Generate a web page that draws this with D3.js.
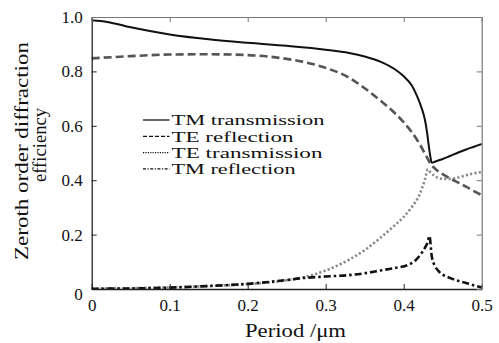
<!DOCTYPE html>
<html><head><meta charset="utf-8">
<script src="https://cdn.jsdelivr.net/npm/d3@7"></script>
<style>html,body{margin:0;padding:0;background:#fff;}svg{display:block;}</style>
</head><body>
<script>
const xTicks = [0, 0.1, 0.2, 0.3, 0.4, 0.5];
const xTickLabels = ["0", "0.1", "0.2", "0.3", "0.4", "0.5"];
const yTicks = [0, 0.2, 0.4, 0.6, 0.8, 1.0];
const yTickLabels = ["0", "0.2", "0.4", "0.6", "0.8", "1.0"];
const seriesNames = ["TM transmission", "TE reflection", "TE transmission", "TM reflection"];

const tmTransP = [0, 0.02, 0.05, 0.1, 0.15, 0.2, 0.25, 0.3, 0.33, 0.35, 0.37, 0.39, 0.4, 0.41, 0.417, 0.423, 0.427, 0.43, 0.432, 0.434, 0.436, 0.44, 0.45, 0.46, 0.47, 0.48, 0.49, 0.5];
const tmTransV = [0.988, 0.982, 0.962, 0.936, 0.918, 0.905, 0.894, 0.88, 0.868, 0.855, 0.836, 0.805, 0.782, 0.75, 0.71, 0.665, 0.625, 0.575, 0.53, 0.49, 0.464, 0.468, 0.478, 0.49, 0.502, 0.513, 0.523, 0.533];

const teReflP = [0, 0.05, 0.1, 0.15, 0.2, 0.25, 0.27, 0.3, 0.33, 0.35, 0.37, 0.39, 0.4, 0.41, 0.42, 0.43, 0.435, 0.44, 0.45, 0.46, 0.47, 0.48, 0.49, 0.5];
const teReflV = [0.848, 0.856, 0.862, 0.863, 0.86, 0.846, 0.836, 0.813, 0.777, 0.738, 0.693, 0.643, 0.613, 0.578, 0.535, 0.483, 0.458, 0.443, 0.422, 0.406, 0.391, 0.376, 0.36, 0.345];

const teTransP = [0, 0.05, 0.1, 0.15, 0.2, 0.25, 0.27, 0.3, 0.33, 0.35, 0.37, 0.39, 0.4, 0.41, 0.42, 0.427, 0.431, 0.434, 0.44, 0.45, 0.46, 0.47, 0.48, 0.49, 0.5];
const teTransV = [0.002, 0.003, 0.006, 0.011, 0.018, 0.032, 0.042, 0.068, 0.108, 0.143, 0.188, 0.238, 0.265, 0.3, 0.345, 0.4, 0.44, 0.43, 0.415, 0.405, 0.405, 0.41, 0.418, 0.425, 0.43];

const tmReflP = [0, 0.05, 0.1, 0.15, 0.2, 0.25, 0.27, 0.3, 0.33, 0.35, 0.37, 0.39, 0.405, 0.415, 0.421, 0.427, 0.431, 0.433, 0.436, 0.44, 0.445, 0.46, 0.48, 0.49, 0.5];
const tmReflV = [0.001, 0.002, 0.005, 0.011, 0.019, 0.033, 0.04, 0.046, 0.051, 0.058, 0.068, 0.078, 0.088, 0.105, 0.125, 0.15, 0.175, 0.195, 0.12, 0.085, 0.065, 0.04, 0.022, 0.013, 0.006];

const W = 499, H = 343;
const m = {left: 91.7, right: 481.7, top: 17, bottom: 289};
const x = d3.scaleLinear().domain([0, 0.5]).range([m.left, m.right]);
const y = d3.scaleLinear().domain([0, 1]).range([m.bottom, m.top]);
const FONT = "Liberation Serif, DejaVu Serif, Noto Serif, Tinos, FreeSerif, Times New Roman, Times, serif";

const svg = d3.select("body").append("svg").attr("width", W).attr("height", H);
svg.append("rect").attr("width", W).attr("height", H).attr("fill", "#fff");

const series = [
  {name: seriesNames[0], p: tmTransP, v: tmTransV, color: "#111", width: 2, dash: null, len: 153},
  {name: seriesNames[1], p: teReflP, v: teReflV, color: "#555", width: 2.6, dash: "8,4", len: 122},
  {name: seriesNames[2], p: teTransP, v: teTransV, color: "#8a8a8a", width: 2.6, dash: "2.2,2.2", len: 151},
  {name: seriesNames[3], p: tmReflP, v: tmReflV, color: "#111", width: 2.6, dash: "7,3,2.5,3", len: 124}
];

const line = d3.line().x(d => x(d[0])).y(d => y(d[1])).curve(d3.curveMonotoneX);
const g = svg.append("g");
[2, 3, 1, 0].forEach(i => {
  const s = series[i];
  g.append("path").datum(s.p.map((p, k) => [p, s.v[k]]))
    .attr("d", line).attr("fill", "none").attr("stroke", s.color)
    .attr("stroke-width", s.width).attr("stroke-dasharray", s.dash);
});

const axBottom = svg.append("g").attr("transform", `translate(0,${m.bottom})`)
  .call(d3.axisBottom(x).tickValues(xTicks).tickFormat((d, i) => xTickLabels[i]).tickSizeInner(-5).tickSizeOuter(0).tickPadding(10));
const axLeft = svg.append("g").attr("transform", `translate(${m.left},0)`)
  .call(d3.axisLeft(y).tickValues(yTicks).tickFormat((d, i) => yTickLabels[i]).tickSizeInner(-5).tickSizeOuter(0).tickPadding(9));
const axTop = svg.append("g").attr("transform", `translate(0,${m.top})`)
  .call(d3.axisTop(x).tickValues(xTicks).tickFormat("").tickSizeInner(-5).tickSizeOuter(0));
const axRight = svg.append("g").attr("transform", `translate(${m.right},0)`)
  .call(d3.axisRight(y).tickValues(yTicks).tickFormat("").tickSizeInner(-5).tickSizeOuter(0));
[axBottom, axLeft].forEach(a => {
  a.select(".domain").attr("stroke", "#222").attr("stroke-width", 1.3);
  a.selectAll(".tick line").attr("stroke", "#222");
  a.selectAll("text").attr("font-family", FONT).attr("font-size", 17).attr("fill", "#111");
});
[axTop, axRight].forEach(a => {
  a.select(".domain").attr("stroke", "#777").attr("stroke-width", 1.2);
  a.selectAll(".tick line").attr("stroke", "#777");
});
axLeft.select(".tick text").attr("dy", "0.6em");

svg.append("text").attr("x", 295.5).attr("y", 337).attr("text-anchor", "middle")
  .attr("font-family", FONT).attr("font-size", 18).attr("fill", "#111")
  .attr("textLength", 101).attr("lengthAdjust", "spacingAndGlyphs").text("Period /μm");
svg.append("text").attr("transform", "translate(28,151) rotate(-90)").attr("text-anchor", "middle")
  .attr("font-family", FONT).attr("font-size", 18).attr("fill", "#111")
  .attr("textLength", 218).attr("lengthAdjust", "spacingAndGlyphs").text("Zeroth order diffraction");
svg.append("text").attr("transform", "translate(46,145) rotate(-90)").attr("text-anchor", "middle")
  .attr("font-family", FONT).attr("font-size", 18).attr("fill", "#111")
  .attr("textLength", 74).attr("lengthAdjust", "spacingAndGlyphs").text("efficiency");

const lg = svg.append("g");
series.forEach((s, i) => {
  const yy = 120 + i * 16.3;
  lg.append("line").attr("x1", 143).attr("x2", 169.5).attr("y1", yy).attr("y2", yy)
    .attr("stroke", "#111").attr("stroke-width", 1.3)
    .attr("stroke-dasharray", i === 0 ? null : i === 1 ? "4,2" : i === 2 ? "1.2,1.2" : "3,1.5,1.2,1.5");
  lg.append("text").attr("x", 171.5).attr("y", yy + 5.2).attr("font-family", FONT).attr("font-size", 15.5)
    .attr("fill", "#111").attr("textLength", s.len).attr("lengthAdjust", "spacingAndGlyphs").text(s.name);
});
</script>
</body></html>
